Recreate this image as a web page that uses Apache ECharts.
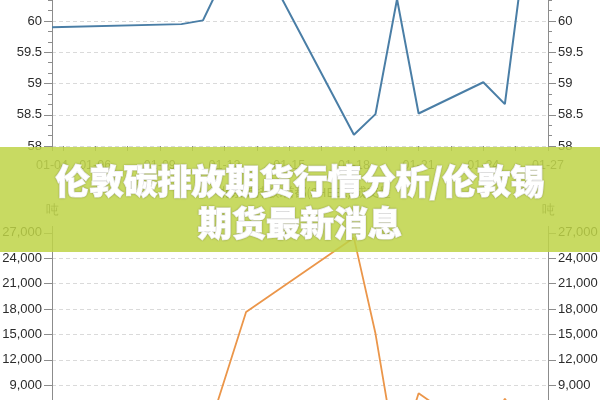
<!DOCTYPE html>
<html>
<head>
<meta charset="utf-8">
<script src="https://cdn.jsdelivr.net/npm/echarts@6/dist/echarts.min.js"></script>
<style>
  html, body { margin: 0; padding: 0; background: #fff; }
  #chart { width: 600px; height: 400px; }
</style>
</head>
<body>
<div id="chart"></div>
<script>
// ---- data ----
const dates = ['01-04','01-10','01-11','01-13','01-18','01-19','01-20','01-21','01-24','01-25','01-26','01-27'];
const priceValues = [59.90, 59.95, 60.01, 61.44, 58.18, 58.51, 60.35, 58.52, 59.02, 58.67, 61.33, 61.50];
const volumeValues = [1300, 1100, 1600, 17650, 26400, 15100, 0, 8050, 2700, 7400, 3500, 5200];
const xTickLabels = ['01-04','01-06','01-09','01-12','01-15','01-18','01-21','01-24','01-27'];
const volumeUnit = '吨';
const subTitle = '北京碳排放:首都(SHEEX):成交量';
const bannerLines = ['伦敦碳排放期货行情分析/伦敦锡', '期货最新消息'];

// ---- helpers ----
const dayIndex = d => parseInt(d.slice(3), 10) - 4;
const labelPos = xTickLabels.map(dayIndex);
const tickPos = [0];
for (let t = 0.5; t <= 23.001; t += 1.5) tickPos.push(t);
const volTicks = [];
for (let v = 0; v <= 27000; v += 3000) volTicks.push(v);

const FONT = '"Liberation Sans", Arial, Helvetica, sans-serif';
const axisGray = '#8c8c8c';
const splitStyle = { type: [4, 3], color: '#dadada', width: 1 };

function priceAxis(pos, split) {
  return {
    type: 'value', gridIndex: 0, position: pos,
    min: 58, max: 62, interval: 0.5,
    axisLine: { show: true, lineStyle: { color: axisGray } },
    axisTick: { show: true, length: 8, lineStyle: { color: axisGray } },
    minorTick: { show: true, splitNumber: 3, length: 4, lineStyle: { color: axisGray } },
    minorSplitLine: { show: false },
    axisLabel: { margin: 10, fontSize: 13, color: '#2b2b2b', fontFamily: FONT },
    splitLine: { show: split, lineStyle: splitStyle }
  };
}
function volumeAxis(pos, split) {
  return {
    type: 'value', gridIndex: 1, position: pos,
    min: 0, max: 27750, interval: 3000,
    name: volumeUnit, nameLocation: 'end', nameGap: 9,
    nameTextStyle: { fontSize: 13, color: '#555', fontFamily: FONT },
    axisLine: { show: true, lineStyle: { color: axisGray } },
    axisTick: { show: true, length: 8, customValues: volTicks, lineStyle: { color: axisGray } },
    axisLabel: {
      margin: 10, fontSize: 13, color: '#2b2b2b', fontFamily: FONT,
      customValues: volTicks,
      formatter: v => Number(v).toLocaleString('en-US')
    },
    splitLine: { show: split, showMaxLine: false, lineStyle: splitStyle }
  };
}

const chart = echarts.init(document.getElementById('chart'), null, { renderer: 'canvas' });
chart.setOption({
  animation: false,
  backgroundColor: '#fff',
  grid: [
    { left: 52, right: 52, top: -104, height: 250, containLabel: false, outerBoundsMode: 'none' },
    { left: 52, right: 52, top: 226.4, height: 235, containLabel: false, outerBoundsMode: 'none' }
  ],
  xAxis: [
    {
      type: 'value', gridIndex: 0, min: 0, max: 23,
      axisLine: { show: false },
      axisTick: { show: true, length: 5, customValues: tickPos, lineStyle: { color: axisGray } },
      axisLabel: {
        show: true, margin: 13, fontSize: 12.5, color: '#555', fontFamily: FONT,
        customValues: labelPos,
        formatter: v => xTickLabels[labelPos.indexOf(Math.round(v))] || ''
      },
      splitLine: { show: false }
    },
    {
      type: 'value', gridIndex: 1, min: 0, max: 23,
      axisLine: { show: false }, axisTick: { show: false },
      axisLabel: { show: false }, splitLine: { show: false }
    }
  ],
  yAxis: [
    priceAxis('left', true),
    priceAxis('right', false),
    volumeAxis('left', true),
    volumeAxis('right', false)
  ],
  series: [
    {
      type: 'line', xAxisIndex: 0, yAxisIndex: 0,
      showSymbol: false, symbol: 'none',
      lineStyle: { color: '#4a7ea6', width: 2 },
      data: dates.map((d, i) => [dayIndex(d), priceValues[i]])
    },
    {
      type: 'line', xAxisIndex: 1, yAxisIndex: 2,
      showSymbol: false, symbol: 'none',
      lineStyle: { color: '#eb964a', width: 1.8 },
      data: dates.map((d, i) => [dayIndex(d), volumeValues[i]])
    }
  ],
  graphic: [
    {
      type: 'text', z: 50, x: 305, y: 192,
      style: {
        text: subTitle, fill: '#444', font: '12px "Noto Sans CJK SC", sans-serif',
        textAlign: 'center', textVerticalAlign: 'middle'
      }
    },
    {
      type: 'rect', z: 100, shape: { x: 0, y: 147, width: 600, height: 105 },
      style: { fill: 'rgba(190, 211, 70, 0.85)' }
    },
    {
      type: 'text', z: 101, x: 300, y: 181,
      style: {
        text: bannerLines[0], fill: '#fff',
        font: '900 34px "Noto Sans CJK SC", sans-serif',
        stroke: '#fff', lineWidth: 1.2,
        textAlign: 'center', textVerticalAlign: 'middle',
        textShadowColor: 'rgba(0,0,0,0.25)', textShadowBlur: 2
      }
    },
    {
      type: 'text', z: 101, x: 300, y: 223,
      style: {
        text: bannerLines[1], fill: '#fff',
        font: '900 34px "Noto Sans CJK SC", sans-serif',
        stroke: '#fff', lineWidth: 1.2,
        textAlign: 'center', textVerticalAlign: 'middle',
        textShadowColor: 'rgba(0,0,0,0.25)', textShadowBlur: 2
      }
    }
  ]
});
</script>
</body>
</html>
